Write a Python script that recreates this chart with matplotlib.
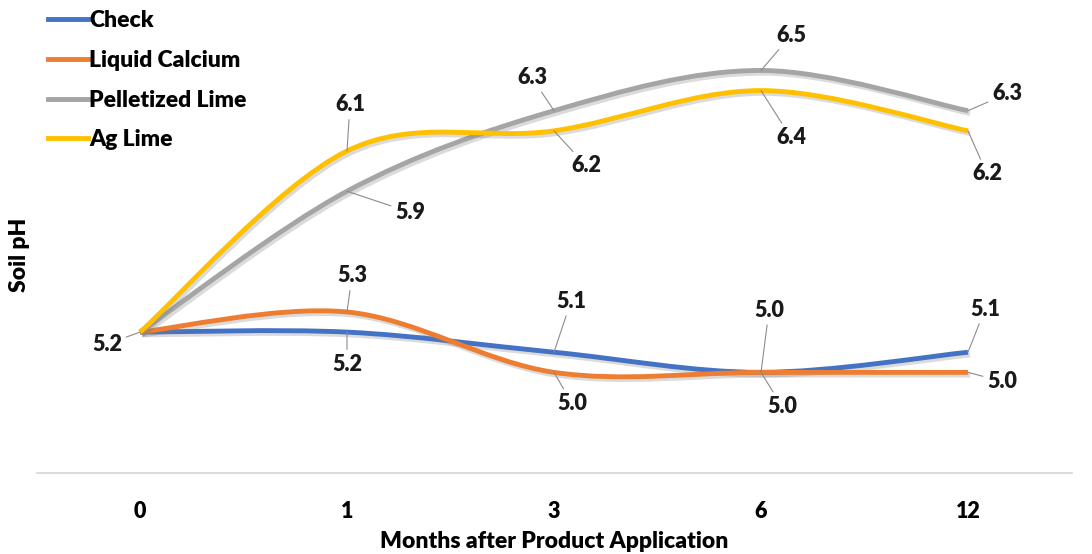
import matplotlib
matplotlib.use("Agg")
import matplotlib.pyplot as plt
import matplotlib.patheffects as pe
from matplotlib.path import Path
from matplotlib.patches import PathPatch
from matplotlib.lines import Line2D
import numpy as np

plt.rcParams['font.family'] = ['Lato', 'DejaVu Sans']
plt.rcParams['font.weight'] = 'heavy'

months = ["0", "1", "3", "6", "12"]
series_names = ["Check", "Liquid Calcium", "Pelletized Lime", "Ag Lime"]
check = [5.2, 5.2, 5.1, 5.0, 5.1]
liquid_calcium = [5.2, 5.3, 5.0, 5.0, 5.0]
pelletized_lime = [5.2, 5.9, 6.3, 6.5, 6.3]
ag_lime = [5.2, 6.1, 6.2, 6.4, 6.2]

colors = ['#4472C4', '#ED7D31', '#A5A5A5', '#FFC000']

# label offsets in pixels (None = no label)
label_offsets = [
    [(-33, -12), (0, -32), (17, 51), (8, 62), (17, 43)],
    [None, (5, 36), (18, -31), (21, -34), (34, -9)],
    [None, (63, -21), (-22, 33), (30, 35), (39, 17)],
    [None, (3, 46), (32, -35), (30, -47), (19, -43)],
]


def smooth_path(xs, ys):
    # cubic bezier through the points, excel-like smoothing
    pts = np.column_stack([xs, ys]).astype(float)
    n = len(pts)
    verts = [pts[0]]
    codes = [Path.MOVETO]
    for i in range(n - 1):
        p0 = pts[i - 1] if i > 0 else pts[i]
        p1 = pts[i]
        p2 = pts[i + 1]
        p3 = pts[i + 2] if i + 2 < n else pts[i + 1]
        c1 = p1 + (p2 - p0) / 6.0
        c2 = p2 - (p3 - p1) / 6.0
        verts += [c1, c2, p2]
        codes += [Path.CURVE4] * 3
    return Path(verts, codes)


fig = plt.figure(figsize=(10.92, 5.54), dpi=100)
ax = fig.add_axes([36.5 / 1092, 81 / 554, 1035 / 1092, 473 / 554])

x = np.arange(len(months))
all_series = [check, liquid_calcium, pelletized_lime, ag_lime]
handles = []
for k, (name, vals) in enumerate(zip(series_names, all_series)):
    patch = PathPatch(smooth_path(x, vals), fill=False, edgecolor=colors[k],
                      linewidth=3.5, capstyle='butt', zorder=2 + k)
    patch.set_path_effects([pe.SimpleLineShadow(offset=(1.5, -2), shadow_color='#7f7f7f', alpha=0.28),
                            pe.Normal()])
    ax.add_patch(patch)
    handles.append(Line2D([], [], color=colors[k], linewidth=3.5, label=name))

    for i, v in enumerate(vals):
        off = label_offsets[k][i]
        if off is None:
            continue
        ax.annotate(f"{v:.1f}", xy=(x[i], v), xytext=off, textcoords='offset pixels',
                    ha='center', va='center', fontsize=15.5, fontweight='heavy', color='#1a1a1a',
                    arrowprops=dict(arrowstyle='-', color='#8c8c8c', lw=0.8,
                                    shrinkA=1, shrinkB=0),
                    zorder=10)

ax.set_xlim(-0.5, 4.5)
ax.set_ylim(4.5, 6.85)
ax.set_xticks(x)
ax.set_xticklabels(months, fontsize=15.5, fontweight='heavy')
ax.set_yticks([])
ax.tick_params(axis='x', length=0, pad=20)
for s in ['top', 'right', 'left']:
    ax.spines[s].set_visible(False)
ax.spines['bottom'].set_color('#D9D9D9')
ax.spines['bottom'].set_linewidth(1.3)

ax.set_xlabel("Months after Product Application", fontsize=16.5, fontweight='heavy', labelpad=7)
fig.text(20 / 1092, 1 - 255 / 554, "Soil pH", rotation=90, ha='center', va='center',
         fontsize=16.5, fontweight='heavy')

fig.legend(handles=handles, loc='upper left', bbox_to_anchor=(48 / 1092, 1 - 10 / 554),
           frameon=False, prop=dict(size=16.5, weight='heavy'), handlelength=1.75, handletextpad=0.05,
           labelspacing=0.82, borderaxespad=0, borderpad=0)

fig.savefig("out.png", dpi=100)
